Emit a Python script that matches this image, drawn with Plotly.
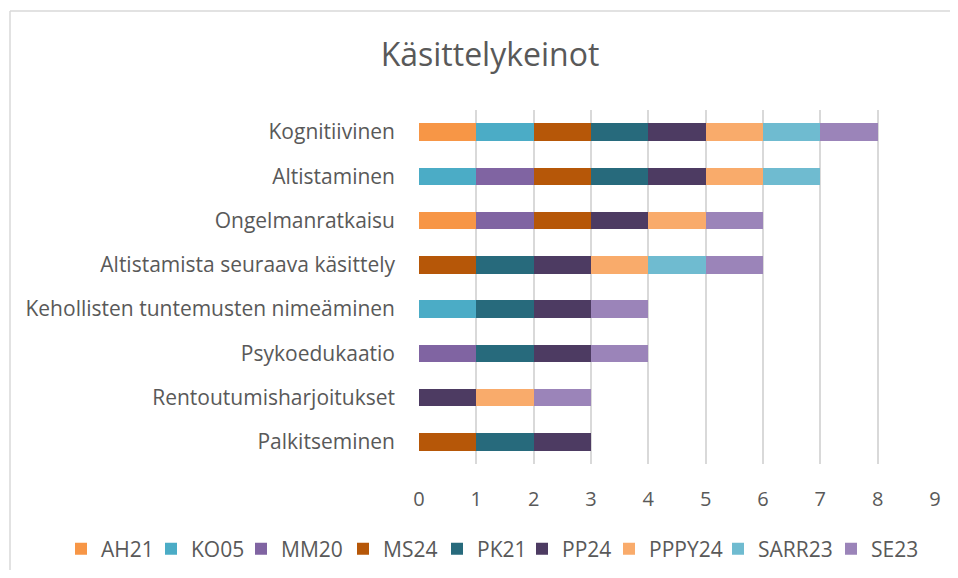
import plotly.graph_objects as go

categories = [
    "Kognitiivinen",
    "Altistaminen",
    "Ongelmanratkaisu",
    "Altistamista seuraava käsittely",
    "Kehollisten tuntemusten nimeäminen",
    "Psykoedukaatio",
    "Rentoutumisharjoitukset",
    "Palkitseminen",
]

series_names = ["AH21", "KO05", "MM20", "MS24", "PK21", "PP24", "PPPY24", "SARR23", "SE23"]

AH21   = [1, 0, 1, 0, 0, 0, 0, 0]
KO05   = [1, 1, 0, 0, 1, 0, 0, 0]
MM20   = [0, 1, 1, 0, 0, 1, 0, 0]
MS24   = [1, 1, 1, 1, 0, 0, 0, 1]
PK21   = [1, 1, 0, 1, 1, 1, 0, 1]
PP24   = [1, 1, 1, 1, 1, 1, 1, 1]
PPPY24 = [1, 1, 1, 1, 0, 0, 1, 0]
SARR23 = [1, 1, 0, 1, 0, 0, 0, 0]
SE23   = [1, 0, 1, 1, 1, 1, 1, 0]

series_values = [AH21, KO05, MM20, MS24, PK21, PP24, PPPY24, SARR23, SE23]
colors = ["#F79646", "#4BACC6", "#8064A2", "#B65708", "#276A7C",
          "#4D3B62", "#F9AB6B", "#6FBBD0", "#9B84B9"]

x_ticks = list(range(0, 10))

FONT = "Open Sans"
GRAY = "#595959"

# page has an 8px body margin on every side; size the figure to avoid scrolling
OFF = 8
W, H = 958 - 2 * OFF, 578 - 2 * OFF
L, T = 419 - OFF, 110 - OFF
pw, ph = 516, 354
R, B = W - L - pw, H - T - ph

# legend entry left edges (screen px) for the separate legend boxes
legend_left = [77, 167, 257, 359, 453, 538, 625, 734, 847]
LEG_SHIFT = 16  # symbol offset inside a legend box


def px_x(p):
    return (p - OFF - L) / pw


def px_y(p):
    return (T + ph - (p - OFF)) / ph


fig = go.Figure()
legend_layout = {}
for i, (name, vals, col) in enumerate(zip(series_names, series_values, colors)):
    key = "legend" if i == 0 else f"legend{i + 1}"
    fig.add_trace(go.Bar(
        y=categories, x=vals, name=name, orientation="h",
        marker=dict(color=col, line=dict(width=0)),
        legend=key,
    ))
    legend_layout[key] = dict(
        xref="paper", yref="paper",
        x=px_x(legend_left[i] - LEG_SHIFT), xanchor="left",
        y=px_y(549), yanchor="middle",
        bgcolor="rgba(0,0,0,0)", borderwidth=0,
        font=dict(family=FONT, size=21, color=GRAY),
        itemwidth=30,
    )

border = dict(color="#D9D9D9", width=1.5)

fig.update_layout(
    width=W, height=H,
    barmode="stack",
    bargap=0.6,
    plot_bgcolor="white",
    paper_bgcolor="white",
    margin=dict(l=L, r=R, t=T, b=B, pad=0, autoexpand=False),
    font=dict(family=FONT, color=GRAY, size=19),
    title=dict(text="Käsittelykeinot", x=(490 - OFF) / W, xanchor="center",
               y=1 - (55 - OFF) / H, yanchor="middle",
               font=dict(family=FONT, size=32, color=GRAY)),
    xaxis=dict(range=[0, 9], tickvals=x_ticks, showgrid=True,
               gridcolor="#D9D9D9", gridwidth=1.5, zeroline=False,
               showline=False, ticks="", tickfont=dict(size=20, color=GRAY),
               ticklabelstandoff=21, fixedrange=True),
    yaxis=dict(categoryorder="array", categoryarray=categories,
               autorange="reversed", showgrid=False, zeroline=False,
               showline=False, ticks="", ticklabelstandoff=23,
               tickfont=dict(size=21, color=GRAY)),
    showlegend=True,
    shapes=[
        dict(type="line", xref="paper", yref="paper",
             x0=px_x(10), x1=px_x(990), y0=px_y(11), y1=px_y(11),
             line=border, layer="below"),
        dict(type="line", xref="paper", yref="paper",
             x0=px_x(10), x1=px_x(10), y0=px_y(11), y1=px_y(600),
             line=border, layer="below"),
    ],
    **legend_layout,
)

fig.write_html("out.html")
